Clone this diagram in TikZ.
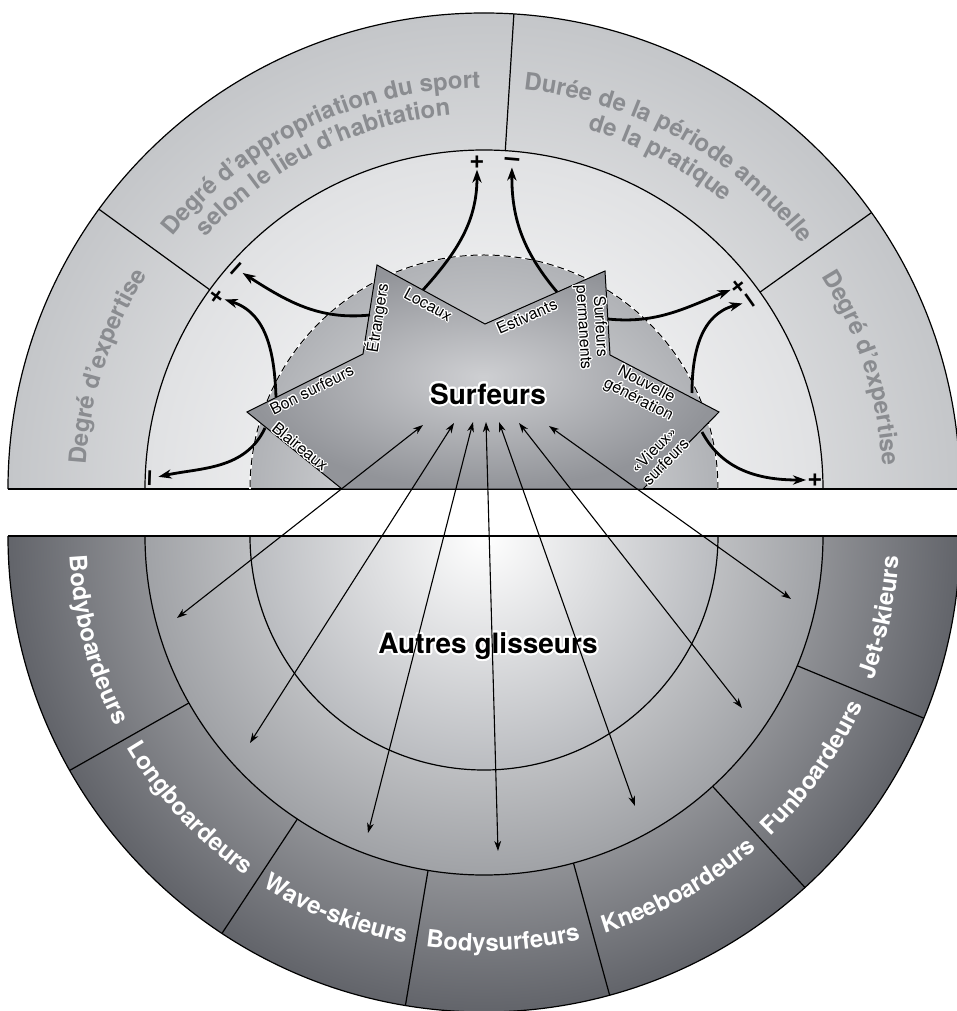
\documentclass[tikz,border=0pt]{standalone}
\usepackage{fontspec}
\setmainfont{TeX Gyre Heros}
\usepackage{contour}
\contournumber{24}
\usetikzlibrary{arrows.meta, positioning, decorations.text}

\definecolor{bandlight}{RGB}{196,198,201}
\definecolor{ringlight}{RGB}{224,225,227}
\definecolor{domelight}{RGB}{236,237,238}
\definecolor{domegray}{RGB}{176,178,182}
\definecolor{starlight}{RGB}{206,207,210}
\definecolor{stargray}{RGB}{146,148,153}
\definecolor{banddark}{RGB}{98,100,106}
\definecolor{ringmid}{RGB}{160,162,166}
\definecolor{discgray}{RGB}{186,188,192}
\definecolor{labelgray}{RGB}{138,140,144}

% text set along an arc: colour, radius, start angle, end angle, text
\newcommand{\arclabel}[5]{%
  \path[decorate, decoration={text along path, text align=center,
      text color=#1, text={|\bfseries\fontsize{12}{14}\selectfont|#5}}]
    (#3:#2) arc[start angle=#3, end angle=#4, radius=#2];}

\begin{document}
\begin{tikzpicture}[x=0.5pt, y=0.5pt,
    rim/.style={line width=0.6pt},
    flow/.style={-{Stealth[length=6.5pt, width=4.6pt, inset=2pt]}, line width=1.4pt},
    glide/.style={{Stealth[length=5pt, width=3.4pt, inset=1.5pt]}-{Stealth[length=5pt, width=3.4pt, inset=1.5pt]}, line width=0.55pt},
    kind/.style={font=\fontsize{8}{8.4}\selectfont, align=center, inner sep=0pt},
    signlbl/.style={font=\bfseries\fontsize{13}{13}\selectfont, inner sep=0.5pt},
    title/.style={font=\bfseries\fontsize{14}{14}\selectfont, inner sep=0pt},
  ]
  \useasboundingbox (-484,-522) rectangle (473,489);

  % upper half: surfeurs
  \begin{scope}
    \clip (-476,0) rectangle (476,476);
    \shade[inner color=white, outer color=bandlight] (0,0) circle (476);
    \shade[inner color=white, outer color=ringlight] (0,0) circle (339);
    \shade[inner color=domelight, outer color=domegray] (0,0) circle (234);
  \end{scope}
  \draw[rim] (-476,0) -- (476,0);
  \draw[rim] (476,0) arc[start angle=0, end angle=180, radius=476];
  \draw[rim] (339,0) arc[start angle=0, end angle=180, radius=339];
  \foreach \a in {35.5, 86.4, 144}
    \draw[rim] (\a:339) -- (\a:476);
  \draw[white, line width=0.8pt] (234,0) arc[start angle=0, end angle=180, radius=234];
  \draw[line width=0.5pt, dash pattern=on 3.5pt off 2pt] (234,0) arc[start angle=0, end angle=180, radius=234];

  \arclabel{labelgray}{399}{197}{127}{Degré d'expertise}
  \arclabel{labelgray}{401}{150.8}{80.8}{Degré d'appropriation du sport}
  \arclabel{labelgray}{375}{151.5}{81.5}{selon le lieu d'habitation}
  \arclabel{labelgray}{401}{96}{26}{Durée de la période annuelle}
  \arclabel{labelgray}{374}{97}{27}{de la pratique}
  \arclabel{labelgray}{399}{52.75}{-17.25}{Degré d'expertise}

  \shadedraw[line width=0.5pt, inner color=starlight, outer color=stargray]
    (-237,77) -- (-121,135) -- (-107,224) -- (1,165) -- (121,218) -- (126,134)
    -- (235,77) -- (159,0) -- (-142,0) -- cycle;

  \node[kind, rotate=26.6] (bon) at (-172,99) {\contourlength{0.5pt}\contour{white}{Bon surfeurs}};
  \node[kind, rotate=-39] (blai) at (-184,42) {\contourlength{0.5pt}\contour{white}{Blaireaux}};
  \node[kind, rotate=81] (etr) at (-106,171) {\contourlength{0.5pt}\contour{white}{Étrangers}};
  \node[kind, rotate=-28.6] (loc) at (-56,184) {\contourlength{0.5pt}\contour{white}{Locaux}};
  \node[kind, rotate=23.8] (est) at (43,172) {\contourlength{0.5pt}\contour{white}{Estivants}};
  \node[kind, rotate=-86.6] (perm) at (107,162)
    {\contourlength{0.5pt}\contour{white}{Surfeurs}\\\contourlength{0.5pt}\contour{white}{permanents}};
  \node[kind, rotate=-27.6] (nouv) at (158,96)
    {\contourlength{0.5pt}\contour{white}{Nouvelle}\\\contourlength{0.5pt}\contour{white}{génération}};
  \node[kind, rotate=45.4] (vieux) at (176,33)
    {\contourlength{0.5pt}\contour{white}{«Vieux»}\\\contourlength{0.5pt}\contour{white}{surfeurs}};
  \node[title] (surf) at (4,94) {\contourlength{1pt}\contour{white}{Surfeurs}};

  \node[signlbl, rotate=48] (m1) at (-246,219) {–};
  \node[signlbl, rotate=54] (p1) at (-267,192) {+};
  \node[signlbl, rotate=88] (m2) at (-331,11) {–};
  \node[signlbl] (p2) at (-7,327) {+};
  \node[signlbl, rotate=-5] (m3) at (28,327) {–};
  \node[signlbl, rotate=-52] (p3) at (254,202) {+};
  \node[signlbl, rotate=-55] (m4) at (264,187) {–};
  \node[signlbl] (p4) at (331,9) {+};

  \coordinate (etr-out) at (-114,174);
  \coordinate (bon-out) at (-208,92);
  \coordinate (blai-out) at (-219,61);
  \coordinate (loc-out) at (-61,199);
  \coordinate (est-out) at (73,197);
  \coordinate (perm-out) at (124,170);
  \coordinate (nouv-out) at (208,96);
  \coordinate (vieux-out) at (218,57);

  \draw[flow] (etr-out) to[out=186, in=-39] (m1);
  \draw[flow] (bon-out) to[out=92, in=-27] (p1);
  \draw[flow] (blai-out) to[out=245, in=2] (m2);
  \draw[flow] (loc-out) to[out=48, in=-90] (p2);
  \draw[flow] (est-out) to[out=130, in=-90] (m3);
  \draw[flow] (perm-out) to[out=-6, in=210] (p3);
  \draw[flow] (nouv-out) to[out=90, in=204] (m4);
  \draw[flow] (vieux-out) to[out=-62, in=180] (p4);

  % lower half: autres glisseurs
  \begin{scope}[shift={(0,-47)}]
    \begin{scope}
      \clip (-476,0) rectangle (476,-476);
      \shade[inner color=white, outer color=banddark] (0,0) circle (476);
      \shade[inner color=white, outer color=ringmid] (0,0) circle (339);
      \shade[inner color=white, outer color=discgray] (0,0) circle (234);
    \end{scope}
    \draw[rim] (-476,0) -- (476,0);
    \draw[rim] (-476,0) arc[start angle=180, end angle=360, radius=476];
    \draw[rim] (-339,0) arc[start angle=180, end angle=360, radius=339];
    \draw[rim] (-234,0) arc[start angle=180, end angle=360, radius=234];
    \foreach \a in {-150.5, -123.4, -99.5, -74.7, -47.6, -22.5}
      \draw[rim] (\a:339) -- (\a:476);

    \arclabel{white}{415}{170}{220}{Bodyboardeurs}
    \arclabel{white}{415}{197.8}{247.8}{Longboardeurs}
    \arclabel{white}{415}{223.4}{273.4}{Wave-skieurs}
    \arclabel{white}{415}{247.7}{297.7}{Bodysurfeurs}
    \arclabel{white}{415}{274}{324}{Kneeboardeurs}
    \arclabel{white}{415}{299.8}{349.8}{Funboardeurs}
    \arclabel{white}{415}{323.4}{373.4}{Jet-skieurs}
  \end{scope}
  \node[title] (autres) at (4,-158) {\contourlength{1pt}\contour{white}{Autres glisseurs}};

  \foreach \name/\tx/\ty/\bx/\by in {bodyb/-61/64/-307/-129, longb/-30/66/-234/-254,
      wave/-11/67/-116/-344, bodys/2/67/14/-362, kneeb/15/67/151/-317,
      funb/35/66/258/-219, jet/65/63/307/-110} {
    \coordinate (\name-up) at (\tx,\ty);
    \coordinate (\name-dn) at (\bx,\by);
    \draw[glide] (\name-up) -- (\name-dn);
  }
\end{tikzpicture}
\end{document}
